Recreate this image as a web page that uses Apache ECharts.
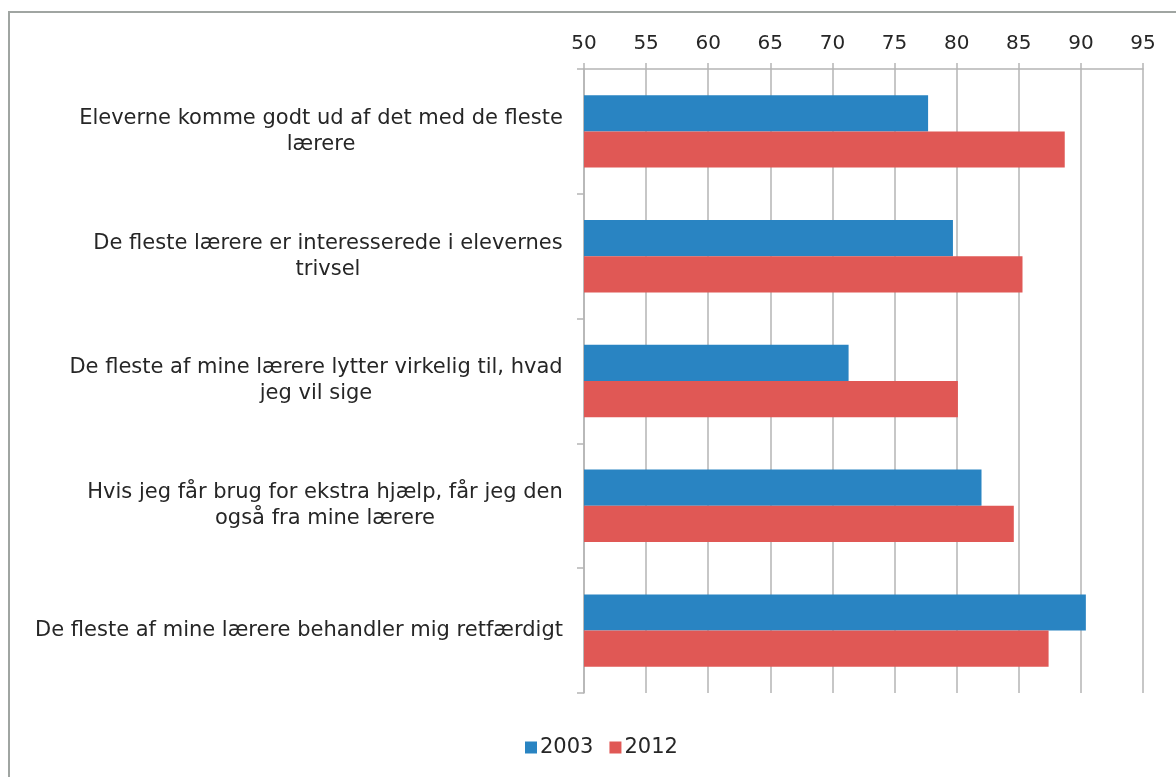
<!DOCTYPE html>
<html>
<head>
<meta charset="utf-8">
<script src="https://cdn.jsdelivr.net/npm/echarts@6/dist/echarts.min.js"></script>
<style>
  html, body { margin: 0; padding: 0; background: #fff; }
  #chart { width: 1176px; height: 777px; }
</style>
</head>
<body>
<div id="chart"></div>
<script>
// Survey statements (one label per category, line breaks as displayed)
const categories = [
  'Eleverne komme godt ud af det med de fleste\nlærere',
  'De fleste lærere er interesserede i elevernes\ntrivsel',
  'De fleste af mine lærere lytter virkelig til, hvad\njeg vil sige',
  'Hvis jeg får brug for ekstra hjælp, får jeg den\nogså fra mine lærere',
  'De fleste af mine lærere behandler mig retfærdigt'
];
// Share of students agreeing, per year
const values2003 = [77.7, 79.7, 71.3, 82.0, 90.4];
const values2012 = [88.7, 85.3, 80.1, 84.6, 87.4];
const seriesNames = ['2003', '2012'];
const xTicks = [50, 55, 60, 65, 70, 75, 80, 85, 90, 95];

const FONT = 'DejaVu Sans';
const LABEL_SIZE = 21;
const TEXT_COLOR = '#262626';
const GRID_COLOR = '#b5b5b5';

// Width of the widest line of each label, so its lines can be centred
// inside a right-aligned block.
const ctx = document.createElement('canvas').getContext('2d');
ctx.font = LABEL_SIZE + 'px "' + FONT + '"';
const rich = {};
categories.forEach((c, i) => {
  const w = Math.max(...c.split('\n').map(l => ctx.measureText(l).width));
  rich['r' + i] = { width: Math.ceil(w), align: 'center', fontSize: LABEL_SIZE,
                    fontFamily: FONT, color: TEXT_COLOR, lineHeight: 26 };
});

const chart = echarts.init(document.getElementById('chart'));
chart.setOption({
  animation: false,
  textStyle: { fontFamily: FONT },
  grid: { left: 584, right: 33, top: 69, bottom: 84, containLabel: false },
  graphic: [
    { type: 'line', shape: { x1: 8, y1: 12, x2: 1176, y2: 12 },
      style: { stroke: '#a0a5a2', lineWidth: 2 } },
    { type: 'line', shape: { x1: 9, y1: 11, x2: 9, y2: 777 },
      style: { stroke: '#a0a5a2', lineWidth: 2 } }
  ],
  legend: {
    data: seriesNames,
    left: 520,
    top: 732,
    itemWidth: 12,
    itemHeight: 12,
    itemGap: 16,
    icon: 'rect',
    textStyle: { fontSize: 21, color: TEXT_COLOR, fontFamily: FONT, padding: [0, 0, 0, -2] }
  },
  xAxis: {
    type: 'value',
    position: 'top',
    min: xTicks[0],
    max: xTicks[xTicks.length - 1],
    interval: 5,
    axisLine: { show: true, lineStyle: { color: GRID_COLOR, width: 1.5 } },
    axisTick: { show: true, length: 6, lineStyle: { color: GRID_COLOR, width: 1.5 } },
    splitLine: { show: true, lineStyle: { color: GRID_COLOR, width: 1.5 } },
    axisLabel: { fontSize: 20, color: TEXT_COLOR, fontFamily: FONT, margin: 15 }
  },
  yAxis: {
    type: 'category',
    inverse: true,
    data: categories,
    axisLine: { show: true, lineStyle: { color: GRID_COLOR, width: 1.5 } },
    axisTick: { show: true, length: 7, lineStyle: { color: GRID_COLOR, width: 1.5 } },
    axisLabel: {
      margin: 21,
      align: 'right',
      formatter: (v, i) => v.split('\n').map(l => '{r' + i + '|' + l + '}').join('\n'),
      rich: rich
    }
  },
  series: [
    { name: seriesNames[0], type: 'bar', data: values2003,
      itemStyle: { color: '#2984c2' }, barGap: '0%', barCategoryGap: '42%' },
    { name: seriesNames[1], type: 'bar', data: values2012,
      itemStyle: { color: '#e05855' }, barGap: '0%', barCategoryGap: '42%' }
  ]
});
</script>
</body>
</html>
